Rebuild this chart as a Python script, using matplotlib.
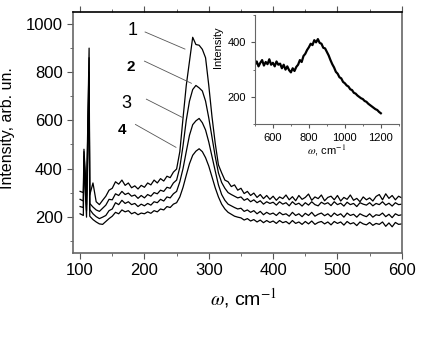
import numpy as np
import matplotlib
matplotlib.use('Agg')
import matplotlib.pyplot as plt
from matplotlib.ticker import MultipleLocator

plt.rcParams['font.family'] = ['Liberation Sans', 'DejaVu Sans']
plt.rcParams['mathtext.fontset'] = 'stix'

# main spectra, omega 100..600 step 5
w = np.arange(100, 605, 5)
c1 = [305, 300, 285, 290, 340, 262, 250, 268, 285, 310,
      318, 345, 335, 352, 330, 340, 320, 328, 315, 330,
      322, 340, 332, 352, 340, 358, 348, 368, 362, 385,
      398, 470, 610, 745, 845, 945, 915, 912, 895, 860,
      745, 615, 505, 415, 382, 352, 345, 325, 332, 310,
      318, 296, 305, 288, 298, 280, 292, 275, 288, 272,
      285, 268, 282, 275, 290, 270, 283, 266, 288, 272,
      280, 294, 268, 282, 275, 290, 266, 280, 285, 270,
      288, 265, 280, 272, 290, 268, 276, 262, 282, 270,
      278, 265, 284, 292, 270, 295, 276, 288, 270, 285,
      278]
c2 = [272, 265, 250, 255, 240, 228, 222, 235, 248, 272,
      270, 295, 288, 305, 292, 298, 285, 290, 276, 288,
      278, 292, 285, 300, 295, 310, 305, 322, 318, 340,
      352, 405, 495, 600, 680, 728, 745, 735, 722, 680,
      610, 530, 450, 382, 342, 318, 300, 292, 285, 278,
      282, 268, 275, 262, 270, 258, 266, 252, 262, 255,
      260, 248, 262, 252, 258, 245, 262, 250, 256, 244,
      258, 248, 262, 250, 245, 260, 252, 258, 246, 262,
      250, 256, 244, 260, 250, 255, 242, 258, 252, 248,
      258, 245, 255, 250, 262, 248, 256, 244, 258, 250,
      252]
c3 = [242, 238, 225, 230, 212, 200, 192, 198, 205, 225,
      232, 258, 250, 268, 255, 262, 250, 255, 242, 252,
      245, 255, 248, 262, 258, 272, 265, 282, 278, 295,
      305, 345, 400, 470, 538, 582, 598, 608, 590, 560,
      510, 450, 390, 332, 292, 268, 252, 245, 238, 232,
      235, 222, 228, 218, 225, 212, 222, 208, 218, 210,
      215, 205, 218, 208, 212, 202, 218, 205, 212, 200,
      214, 205, 218, 202, 210, 215, 204, 212, 200, 215,
      205, 212, 198, 215, 205, 210, 198, 212, 205, 200,
      212, 198, 208, 205, 215, 200, 210, 196, 212, 205,
      208]
c4 = [212, 205, 198, 202, 188, 178, 170, 168, 180, 192,
      202, 218, 212, 228, 220, 225, 212, 218, 208, 215,
      212, 220, 214, 225, 220, 232, 228, 242, 238, 252,
      258, 282, 322, 372, 420, 455, 472, 482, 470, 445,
      410, 365, 320, 282, 252, 232, 218, 210, 202, 198,
      195, 186, 192, 182, 188, 178, 186, 175, 184, 176,
      182, 172, 184, 175, 180, 170, 184, 172, 178, 168,
      180, 170, 182, 168, 176, 180, 170, 178, 166, 180,
      172, 178, 165, 180, 170, 175, 163, 178, 170, 166,
      176, 164, 172, 168, 178, 160, 174, 158, 176, 168,
      170]

# narrow lines near 106 and 114 cm-1
spike_w = [106, 114]
spikes = [[480, 900], [470, 860], [450, 800], [430, 760]]

# inset spectrum, 500..1200 step 10
wi = np.arange(500, 1210, 10)
ci = [318, 330, 312, 325, 335, 315, 328, 320, 338, 318,
      325, 312, 330, 318, 322, 305, 318, 300, 312, 298,
      290, 305, 295, 310, 318, 335, 328, 350, 358, 372,
      382, 395, 390, 408, 400, 412, 398, 395, 380, 378,
      365, 352, 335, 320, 308, 292, 285, 272, 268, 255,
      250, 242, 238, 228, 225, 215, 212, 205, 200, 195,
      192, 185, 182, 175, 170, 165, 160, 155, 152, 145,
      140]

labels = ['1', '2', '3', '4']
label_pos = [(182, 975), (178, 821), (172, 671), (165, 558)]
line_start = [(201, 967), (200, 846), (203, 688), (186, 583)]
line_end = [(263, 896), (273, 754), (259, 612), (249, 488)]
label_bold = [False, True, False, True]

fig = plt.figure(figsize=(4.27, 3.43), dpi=100)
ax = fig.add_axes([0.171, 0.263, 0.770, 0.702])

for c, s in zip([c1, c2, c3, c4], spikes):
    xx = np.concatenate([w, spike_w])
    yy = np.concatenate([c, s])
    o = np.argsort(xx, kind='stable')
    ax.plot(xx[o], yy[o], color='black', lw=0.9)

for t, p, a, b, bold in zip(labels, label_pos, line_start, line_end, label_bold):
    ax.text(p[0], p[1], t, fontsize=11 if bold else 13,
            fontweight='bold' if bold else 'normal', ha='center', va='center')
    ax.plot([a[0], b[0]], [a[1], b[1]], color='#555555', lw=0.6)

ax.set_xlim(89, 600)
ax.set_ylim(50, 1050)
ax.xaxis.set_major_locator(MultipleLocator(100))
ax.xaxis.set_minor_locator(MultipleLocator(50))
ax.yaxis.set_major_locator(MultipleLocator(200))
ax.yaxis.set_minor_locator(MultipleLocator(100))
ax.tick_params(which='both', direction='out', top=True, labelsize=12, color='#555555')
ax.tick_params(which='major', length=4)
ax.tick_params(which='minor', length=2)
for sp in ax.spines.values():
    sp.set_color('#666666')
    sp.set_linewidth(1.2)
ax.spines['top'].set_color('black')
ax.set_ylabel('Intensity, arb. un.', fontsize=11.5)
ax.yaxis.set_label_coords(-0.175, 0.52)
ax.set_xlabel(r'$\omega$, cm$^{-1}$', fontsize=14)
ax.xaxis.set_label_coords(0.52, -0.14)

ins = fig.add_axes([0.597, 0.638, 0.337, 0.318])
ins.plot(wi, ci, color='black', lw=1.6)
ins.set_xlim(500, 1300)
ins.set_ylim(100, 500)
ins.xaxis.set_major_locator(MultipleLocator(200))
ins.xaxis.set_minor_locator(MultipleLocator(100))
ins.yaxis.set_major_locator(MultipleLocator(200))
ins.yaxis.set_minor_locator(MultipleLocator(100))
ins.tick_params(which='both', direction='out', labelsize=8, color='#555555')
ins.tick_params(which='major', length=3)
ins.tick_params(which='minor', length=1.5)
ins.spines['top'].set_visible(False)
ins.spines['right'].set_visible(False)
for sp in ['left', 'bottom']:
    ins.spines[sp].set_color('#666666')
ins.set_ylabel('Intensity', fontsize=8)
ins.yaxis.set_label_coords(-0.22, 0.71)
ins.set_xlabel(r'$\omega$, cm$^{-1}$', fontsize=8)
ins.xaxis.set_label_coords(0.5, -0.17)

fig.savefig('out.png', dpi=100)
